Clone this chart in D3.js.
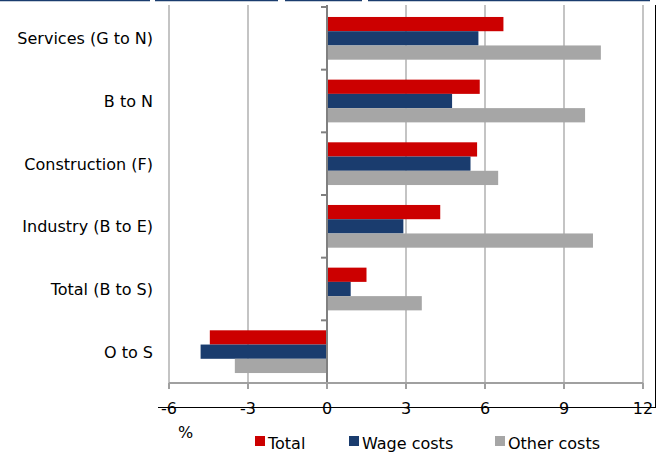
<!DOCTYPE html>
<html><head><meta charset="utf-8">
<script src="https://cdn.jsdelivr.net/npm/d3@7"></script>
<style>body{margin:0;background:#fff}text{font-family:"DejaVu Sans",Verdana,sans-serif}</style>
</head><body><svg width="669" height="452"></svg>
<script>
const categories = ["Services (G to N)", "B to N", "Construction (F)", "Industry (B to E)", "Total (B to S)", "O to S"];
const seriesNames = ["Total", "Wage costs", "Other costs"];
const total = [6.7, 5.8, 5.7, 4.3, 1.5, -4.45];
const wage = [5.75, 4.75, 5.45, 2.9, 0.9, -4.8];
const other = [10.4, 9.8, 6.5, 10.1, 3.6, -3.5];
const ticks = [-6, -3, 0, 3, 6, 9, 12];
const colors = ["#cc0000", "#1a3c6e", "#a6a6a6"];
const series = [total, wage, other];

const svg = d3.select("svg");
const x = d3.scaleLinear().domain([-6, 12]).range([169, 643]);
const y = d3.scaleBand().domain(categories).range([7, 383]);
const inner = d3.scaleBand().domain(seriesNames).range([0, y.bandwidth()]).paddingOuter(0.7);

// top blue line
[[0,150],[155,278],[285,362],[368,650]].forEach(s =>
  svg.append("line").attr("x1", s[0]).attr("x2", s[1]).attr("y1", 0.5).attr("y2", 0.5)
    .attr("stroke", "#1a3c6e").attr("stroke-width", 1.5));

// grid
svg.selectAll(".grid").data(ticks.filter(t => t !== 0)).join("line")
  .attr("x1", d => x(d)).attr("x2", d => x(d)).attr("y1", 5).attr("y2", 383)
  .attr("stroke", "#c4c4c4").attr("stroke-width", 2);

// bars
series.forEach((vals, i) => {
  svg.append("g").selectAll("rect").data(vals).join("rect")
    .attr("x", d => x(Math.min(0, d)))
    .attr("width", d => Math.abs(x(d) - x(0)))
    .attr("y", (d, j) => y(categories[j]) + inner(seriesNames[i]))
    .attr("height", inner.bandwidth())
    .attr("fill", colors[i]);
});

// zero axis with ticks
svg.append("line").attr("x1", x(0)).attr("x2", x(0)).attr("y1", 5).attr("y2", 383)
  .attr("stroke", "#808080").attr("stroke-width", 2);
const bounds = categories.map(c => y(c)).concat([383]);
svg.selectAll(".yt").data(bounds).join("line")
  .attr("x1", x(0) - 6).attr("x2", x(0)).attr("y1", d => d).attr("y2", d => d)
  .attr("stroke", "#808080").attr("stroke-width", 2);

// bottom axis
svg.append("line").attr("x1", x(-6)).attr("x2", x(12)).attr("y1", 383).attr("y2", 383)
  .attr("stroke", "#a0a0a0").attr("stroke-width", 2);
svg.selectAll(".xt").data(ticks).join("line")
  .attr("x1", d => x(d)).attr("x2", d => x(d)).attr("y1", 383).attr("y2", 389)
  .attr("stroke", "#a0a0a0").attr("stroke-width", 2);
svg.selectAll(".xl").data(ticks).join("text")
  .attr("x", d => x(d)).attr("y", 414).attr("text-anchor", "middle")
  .attr("font-size", 16).text(d => d);

// black frame lines
svg.append("line").attr("x1", 158).attr("x2", 656).attr("y1", 407.5).attr("y2", 407.5).attr("stroke", "#000");
svg.append("line").attr("x1", 655.5).attr("x2", 655.5).attr("y1", 5).attr("y2", 408).attr("stroke", "#000");

// category labels
svg.selectAll(".cl").data(categories).join("text")
  .attr("x", 153).attr("y", d => y(d) + y.bandwidth() / 2 + 6)
  .attr("text-anchor", "end").attr("font-size", 16).text(d => d);

svg.append("text").attr("x", 178).attr("y", 438).attr("font-size", 16).text("%");

// legend
const lx = [255, 349, 495];
seriesNames.forEach((n, i) => {
  svg.append("rect").attr("x", lx[i]).attr("y", 436).attr("width", 10).attr("height", 10).attr("fill", colors[i]);
  svg.append("text").attr("x", lx[i] + 13).attr("y", 449).attr("font-size", 16).text(n);
});
</script></body></html>
